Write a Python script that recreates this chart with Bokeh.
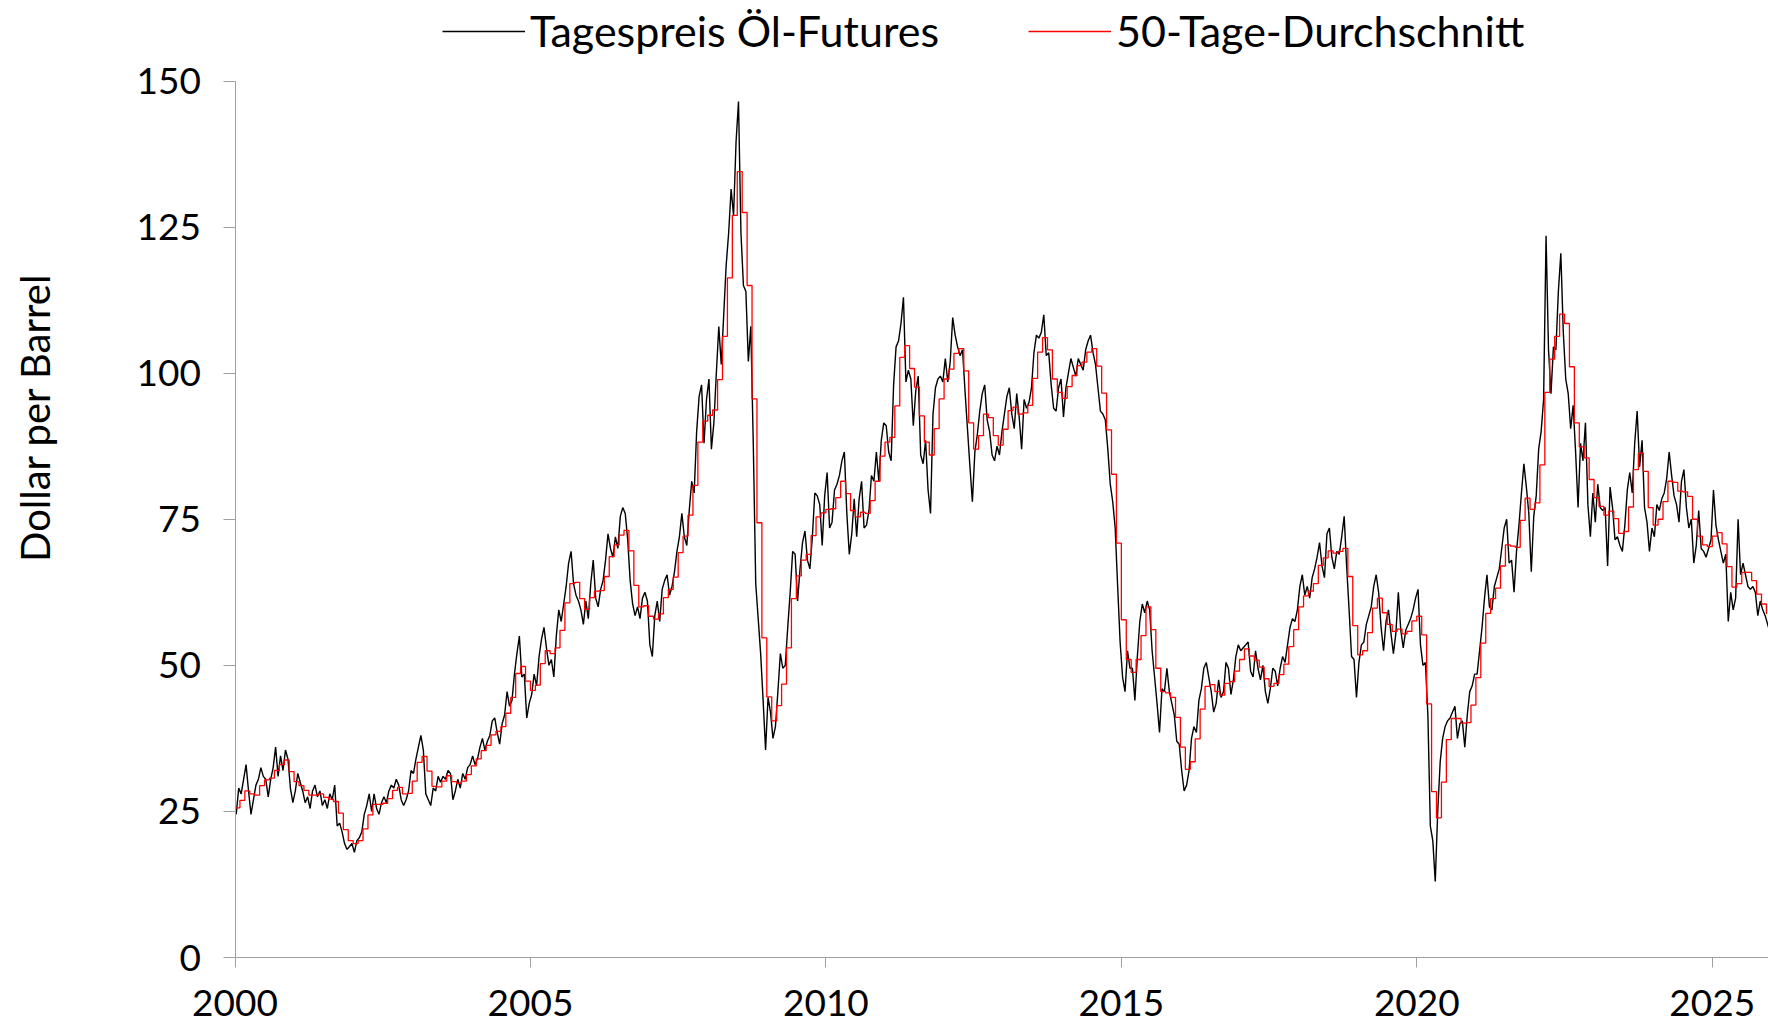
import math
import numpy as np
from bokeh.plotting import figure
from bokeh.models import Range1d, FixedTicker, NumeralTickFormatter, Label, Legend, LegendItem
from bokeh.embed import file_html
from bokeh.resources import INLINE

FONT = "Lato"

# Daily futures price (two readings per month, Jan 2000 .. Dec 2025)
price_2000 = [24.5, 29.0, 28.0, 30.5, 33.0, 28.5, 24.5, 27.0, 29.5, 30.5, 32.5, 31.0, 30.5, 27.5, 30.5, 32.5, 36.0, 31.0, 34.5, 32.0, 35.5, 34.0, 29.0, 26.5]
price_2001 = [28.5, 31.5, 30.0, 28.5, 26.5, 27.5, 25.5, 28.5, 29.5, 27.5, 28.5, 26.0, 27.0, 25.5, 28.0, 27.0, 29.5, 22.5, 23.0, 21.5, 19.5, 18.5, 19.0, 19.5]
price_2002 = [18.0, 20.0, 20.5, 21.5, 24.5, 26.0, 28.0, 25.0, 28.0, 25.5, 24.5, 26.5, 27.5, 26.5, 28.5, 29.5, 29.0, 30.5, 29.5, 27.0, 26.0, 27.0, 28.5, 32.0]
price_2003 = [31.5, 34.0, 36.0, 38.0, 35.5, 28.0, 27.0, 26.0, 29.0, 28.5, 31.0, 30.0, 31.0, 30.5, 32.0, 31.5, 27.0, 28.5, 30.5, 29.0, 31.5, 30.5, 32.5, 33.0]
price_2004 = [34.5, 33.0, 34.0, 36.0, 37.5, 35.5, 37.0, 38.0, 40.5, 41.0, 38.5, 36.5, 40.0, 41.5, 45.5, 43.0, 44.0, 48.5, 52.0, 55.0, 48.0, 48.5, 41.0, 43.5]
price_2005 = [45.0, 48.5, 46.5, 51.5, 54.5, 56.5, 53.0, 50.0, 51.0, 48.0, 55.0, 59.5, 57.5, 60.5, 63.5, 67.5, 69.5, 64.0, 62.0, 61.0, 59.5, 57.0, 61.0, 58.0]
price_2006 = [64.0, 68.0, 61.5, 60.0, 63.0, 64.5, 68.0, 72.5, 70.0, 68.5, 72.0, 70.0, 75.5, 77.0, 76.0, 71.5, 64.5, 60.5, 58.5, 60.0, 58.0, 61.5, 62.5, 61.0]
price_2007 = [53.5, 51.5, 58.5, 61.0, 57.5, 63.0, 64.5, 65.5, 62.0, 63.5, 66.0, 69.5, 72.0, 76.0, 72.0, 70.5, 76.5, 81.5, 79.5, 90.0, 96.0, 98.0, 88.0, 95.5]
price_2008 = [99.0, 87.0, 91.5, 100.0, 108.0, 101.5, 110.0, 118.5, 124.0, 131.5, 127.0, 139.5, 146.5, 124.0, 115.0, 114.0, 102.0, 108.0, 88.0, 64.0, 58.0, 52.0, 44.0, 35.5]
price_2009 = [44.5, 42.0, 37.5, 39.5, 45.5, 52.0, 49.5, 50.0, 56.5, 62.5, 69.5, 69.0, 61.0, 66.5, 71.0, 73.0, 68.0, 66.5, 72.0, 79.5, 79.0, 77.5, 70.5, 79.0]
price_2010 = [83.0, 73.5, 74.5, 80.0, 81.0, 82.5, 85.0, 86.5, 76.0, 69.0, 72.5, 78.5, 72.0, 78.5, 81.5, 73.5, 74.0, 76.5, 82.5, 81.5, 86.5, 81.5, 88.5, 91.5]
price_2011 = [91.0, 86.5, 85.0, 98.0, 104.5, 105.5, 108.5, 113.0, 98.5, 100.5, 99.0, 91.0, 97.0, 99.5, 86.0, 84.5, 88.5, 80.0, 76.0, 93.0, 97.5, 99.0, 99.5, 98.5]
price_2012 = [102.5, 98.5, 102.0, 109.5, 106.5, 104.5, 103.0, 104.0, 97.0, 90.5, 84.0, 78.0, 86.5, 89.5, 93.5, 96.5, 98.0, 92.0, 90.0, 86.0, 85.0, 87.5, 86.0, 90.0]
price_2013 = [93.0, 96.0, 97.5, 93.0, 90.5, 96.5, 92.5, 87.0, 95.5, 94.0, 95.0, 97.5, 103.5, 106.5, 106.0, 107.0, 110.0, 103.0, 103.5, 98.0, 94.0, 93.5, 97.5, 99.0]
price_2014 = [92.5, 97.5, 100.0, 102.5, 101.0, 99.5, 102.5, 101.5, 100.5, 104.0, 105.5, 106.5, 103.5, 101.5, 97.5, 93.5, 93.0, 92.0, 87.0, 81.0, 78.0, 73.5, 63.5, 54.0]
price_2015 = [48.0, 45.5, 52.5, 49.5, 49.5, 44.0, 51.5, 57.5, 60.5, 59.0, 61.0, 59.5, 52.5, 48.0, 43.5, 38.5, 46.0, 45.5, 49.5, 45.5, 43.5, 41.5, 37.0, 36.5]
price_2016 = [32.0, 28.5, 29.5, 32.0, 37.5, 39.5, 38.5, 44.0, 46.0, 49.5, 50.5, 48.0, 45.5, 42.0, 43.5, 47.5, 44.5, 45.5, 50.5, 49.5, 45.0, 47.5, 51.5, 53.5]
price_2017 = [52.5, 53.0, 53.5, 54.0, 49.0, 48.0, 52.5, 49.5, 47.5, 50.0, 45.5, 43.5, 46.0, 49.5, 49.0, 46.5, 49.5, 51.5, 50.5, 53.5, 56.5, 58.0, 57.5, 59.5]
price_2018 = [63.5, 65.5, 62.0, 63.5, 61.5, 65.0, 66.5, 68.5, 71.0, 67.0, 65.0, 72.5, 73.5, 68.5, 66.5, 69.5, 69.0, 72.0, 75.5, 67.0, 59.5, 51.5, 51.0, 44.5]
price_2019 = [50.5, 53.5, 54.0, 57.0, 58.5, 60.0, 63.5, 65.5, 62.5, 56.5, 52.5, 57.5, 59.5, 55.5, 52.0, 55.5, 62.5, 56.0, 53.0, 56.0, 57.0, 58.0, 59.5, 61.5]
price_2020 = [63.0, 53.5, 50.0, 50.5, 41.5, 22.5, 20.0, 13.0, 25.0, 33.5, 37.5, 39.5, 40.5, 41.0, 42.0, 43.0, 37.5, 40.0, 40.5, 36.0, 41.5, 45.5, 46.5, 48.5]
price_2021 = [48.5, 52.5, 56.5, 61.5, 65.5, 60.0, 59.5, 63.5, 65.0, 66.5, 70.0, 73.5, 75.0, 67.5, 68.0, 62.5, 69.5, 74.0, 79.5, 84.5, 80.5, 76.0, 66.0, 75.5]
price_2022 = [79.0, 87.0, 90.0, 95.5, 123.5, 104.0, 96.5, 104.5, 104.0, 114.0, 120.5, 107.0, 99.0, 96.5, 90.5, 94.5, 86.5, 77.0, 88.0, 85.0, 91.5, 77.5, 72.0, 79.5]
price_2023 = [74.5, 81.0, 77.0, 76.5, 77.0, 67.0, 80.5, 77.0, 71.5, 72.0, 70.5, 69.5, 74.0, 80.0, 83.0, 79.5, 88.0, 93.5, 84.0, 88.5, 77.0, 74.5, 69.5, 73.5]
price_2024 = [72.0, 77.5, 76.5, 78.5, 79.5, 82.0, 86.5, 82.5, 79.0, 77.5, 74.5, 81.5, 83.5, 77.0, 73.5, 75.0, 67.5, 70.5, 76.5, 70.0, 69.5, 68.5, 70.0, 71.5]
price_2025 = [80.0, 74.0, 71.5, 69.5, 67.5, 69.0, 57.5, 62.5, 59.5, 61.5, 75.0, 65.5, 67.5, 65.5, 63.5, 63.0, 63.5, 62.5, 58.5, 61.0, 59.5, 58.5, 57.0, 55.5]

# 50-day average (one step per month, Jan 2000 .. Dec 2025)
avg_2000 = [25.6, 26.9, 28.5, 28.0, 27.8, 29.4, 30.4, 30.7, 32.0, 33.0, 33.8, 31.8]
avg_2001 = [30.1, 29.4, 28.6, 27.8, 27.8, 28.0, 27.4, 27.1, 26.7, 24.7, 21.9, 20.0]
avg_2002 = [19.5, 20.0, 22.0, 24.4, 26.2, 26.2, 26.4, 27.2, 28.6, 29.1, 28.0, 28.1]
avg_2003 = [30.2, 33.4, 34.4, 31.9, 29.3, 29.2, 30.2, 31.1, 30.1, 29.8, 30.2, 31.3]
avg_2004 = [32.8, 34.0, 35.4, 36.3, 38.1, 38.7, 39.5, 41.8, 44.5, 48.6, 49.8, 47.3]
avg_2005 = [45.7, 46.6, 50.3, 52.5, 52.0, 53.0, 56.0, 60.7, 64.0, 64.2, 61.4, 59.6]
avg_2006 = [61.6, 62.7, 62.8, 65.2, 68.6, 70.6, 72.3, 73.1, 69.6, 63.7, 60.0, 60.2]
avg_2007 = [58.4, 57.9, 58.8, 61.6, 63.0, 65.1, 69.3, 72.1, 75.7, 80.8, 88.2, 91.8]
avg_2008 = [92.8, 93.7, 98.9, 106.3, 116.3, 127.0, 134.5, 127.5, 115.0, 95.6, 74.4, 54.7]
avg_2009 = [44.6, 40.5, 43.1, 46.8, 53.0, 61.4, 65.3, 68.0, 69.0, 72.2, 75.4, 76.1]
avg_2010 = [76.7, 76.8, 78.7, 81.5, 79.4, 76.5, 75.4, 76.2, 76.0, 78.2, 81.5, 85.8]
avg_2011 = [88.2, 89.0, 94.4, 102.7, 104.7, 100.8, 97.6, 92.7, 88.2, 86.0, 90.5, 95.6]
avg_2012 = [99.0, 100.7, 103.4, 104.2, 100.4, 91.5, 87.0, 89.3, 93.0, 92.4, 89.3, 87.7]
avg_2013 = [90.4, 93.6, 94.2, 93.0, 93.2, 94.5, 99.1, 103.6, 106.1, 104.0, 99.0, 96.7]
avg_2014 = [95.7, 97.7, 99.6, 101.3, 101.9, 103.6, 104.2, 101.2, 96.6, 90.3, 82.7, 70.9]
avg_2015 = [57.8, 51.0, 48.8, 51.0, 55.1, 60.0, 56.1, 49.5, 45.5, 45.3, 44.5, 41.1]
avg_2016 = [36.0, 32.2, 33.5, 37.4, 42.5, 46.4, 46.7, 45.5, 44.9, 46.9, 47.2, 49.0]
avg_2017 = [51.0, 52.8, 51.6, 50.9, 49.7, 47.7, 46.4, 46.9, 48.4, 50.2, 53.2, 56.1]
avg_2018 = [60.0, 61.9, 62.7, 64.0, 67.1, 68.4, 69.6, 69.2, 69.5, 70.0, 65.2, 56.8]
avg_2019 = [51.8, 52.5, 55.6, 59.8, 61.5, 59.0, 57.0, 55.8, 56.2, 55.4, 55.8, 57.6]
avg_2020 = [58.4, 55.2, 43.4, 28.4, 23.9, 30.0, 37.3, 40.9, 40.9, 40.1, 40.2, 43.2]
avg_2021 = [47.9, 53.8, 58.9, 61.4, 63.2, 67.0, 70.6, 70.4, 70.2, 74.8, 78.6, 76.7]
avg_2022 = [77.8, 84.3, 96.7, 102.4, 106.3, 110.1, 108.5, 101.1, 91.5, 87.4, 85.5, 81.8]
avg_2023 = [78.7, 77.2, 75.7, 76.4, 75.1, 72.6, 72.9, 77.1, 83.5, 86.3, 83.2, 77.0]
avg_2024 = [74.0, 75.0, 78.0, 81.5, 81.3, 79.8, 79.7, 78.9, 75.0, 72.1, 70.6, 70.3]
avg_2025 = [72.1, 72.7, 70.8, 66.9, 63.4, 64.0, 65.9, 65.9, 64.5, 62.2, 60.5, 58.8]

x_ticks = [2000, 2005, 2010, 2015, 2020, 2025]
y_ticks = [0, 25, 50, 75, 100, 125, 150]
legend_labels = ["Tagespreis Öl-Futures", "50-Tage-Durchschnitt"]
y_title = "Dollar per Barrel"

g = globals()
years = list(range(2000, 2026))
prices = sum((g["price_%d" % y] for y in years), [])
avgs = sum((g["avg_%d" % y] for y in years), [])

x_price = 2000 + (np.arange(len(prices)) + 0.5) / 24.0
x_avg = 2000 + np.arange(len(avgs)) / 12.0

W, H = 1768, 1026
PPY = 59.09          # pixels per year
PPV = 5.8433         # pixels per dollar
X_ORIG, Y_ORIG = 234.5, 957.0   # pixel position of (2000, 0)
x_start = 2000 - X_ORIG / PPY
x_end = 2000 + (W - X_ORIG) / PPY
y_end = (Y_ORIG - 0) / PPV
y_start = -(H - Y_ORIG) / PPV

def dx(sx):
    return 2000 + (sx - X_ORIG) / PPY
def dy(sy):
    return (Y_ORIG - sy) / PPV

p = figure(width=W, height=H, output_backend="svg", toolbar_location=None,
           x_range=Range1d(x_start, x_end), y_range=Range1d(y_start, y_end),
           min_border=0, min_border_left=0, min_border_right=0,
           min_border_top=0, min_border_bottom=0)
p.outline_line_color = None
p.background_fill_color = "white"
p.border_fill_color = "white"
p.xgrid.visible = False
p.ygrid.visible = False

r1 = p.line(x_price, prices, line_color="black", line_width=1.4)
r2 = p.step(x_avg, avgs, mode="after", line_color="#ff0000", line_width=1.3)

AX = "#a0a0a0"
for ax in (p.xaxis[0], p.yaxis[0]):
    ax.axis_line_color = AX
    ax.major_tick_line_color = AX
    ax.minor_tick_line_color = None
    ax.major_tick_in = 0
    ax.major_label_text_font = FONT
    ax.major_label_text_font_size = "37px"
    ax.major_label_text_color = "black"

p.xaxis.fixed_location = 0
p.xaxis.bounds = (2000, x_end)
p.xaxis.ticker = FixedTicker(ticks=x_ticks)
p.xaxis.formatter = NumeralTickFormatter(format="0")
p.xaxis.major_tick_out = 10
p.xaxis.major_label_standoff = 22

p.yaxis.fixed_location = 2000
p.yaxis.bounds = (0, 150)
p.yaxis.ticker = FixedTicker(ticks=y_ticks)
p.yaxis.major_tick_out = 12
p.yaxis.major_label_standoff = 22

p.add_layout(Label(x=dx(34), y=dy(417), text=y_title, angle=math.pi / 2,
                   text_align="center", text_baseline="middle",
                   text_font=FONT, text_font_size="40px", text_color="black"))

legend = Legend(items=[LegendItem(label=legend_labels[0], renderers=[r1]),
                       LegendItem(label=legend_labels[1], renderers=[r2])],
                orientation="horizontal", location=(442, H - 56),
                padding=0, margin=0, spacing=89, label_standoff=5,
                glyph_width=83, glyph_height=20,
                label_text_font=FONT, label_text_font_size="43px",
                label_text_color="black",
                border_line_color=None, background_fill_alpha=0.0)
p.add_layout(legend, "center")

open("out.html", "w").write(file_html(p, INLINE))
